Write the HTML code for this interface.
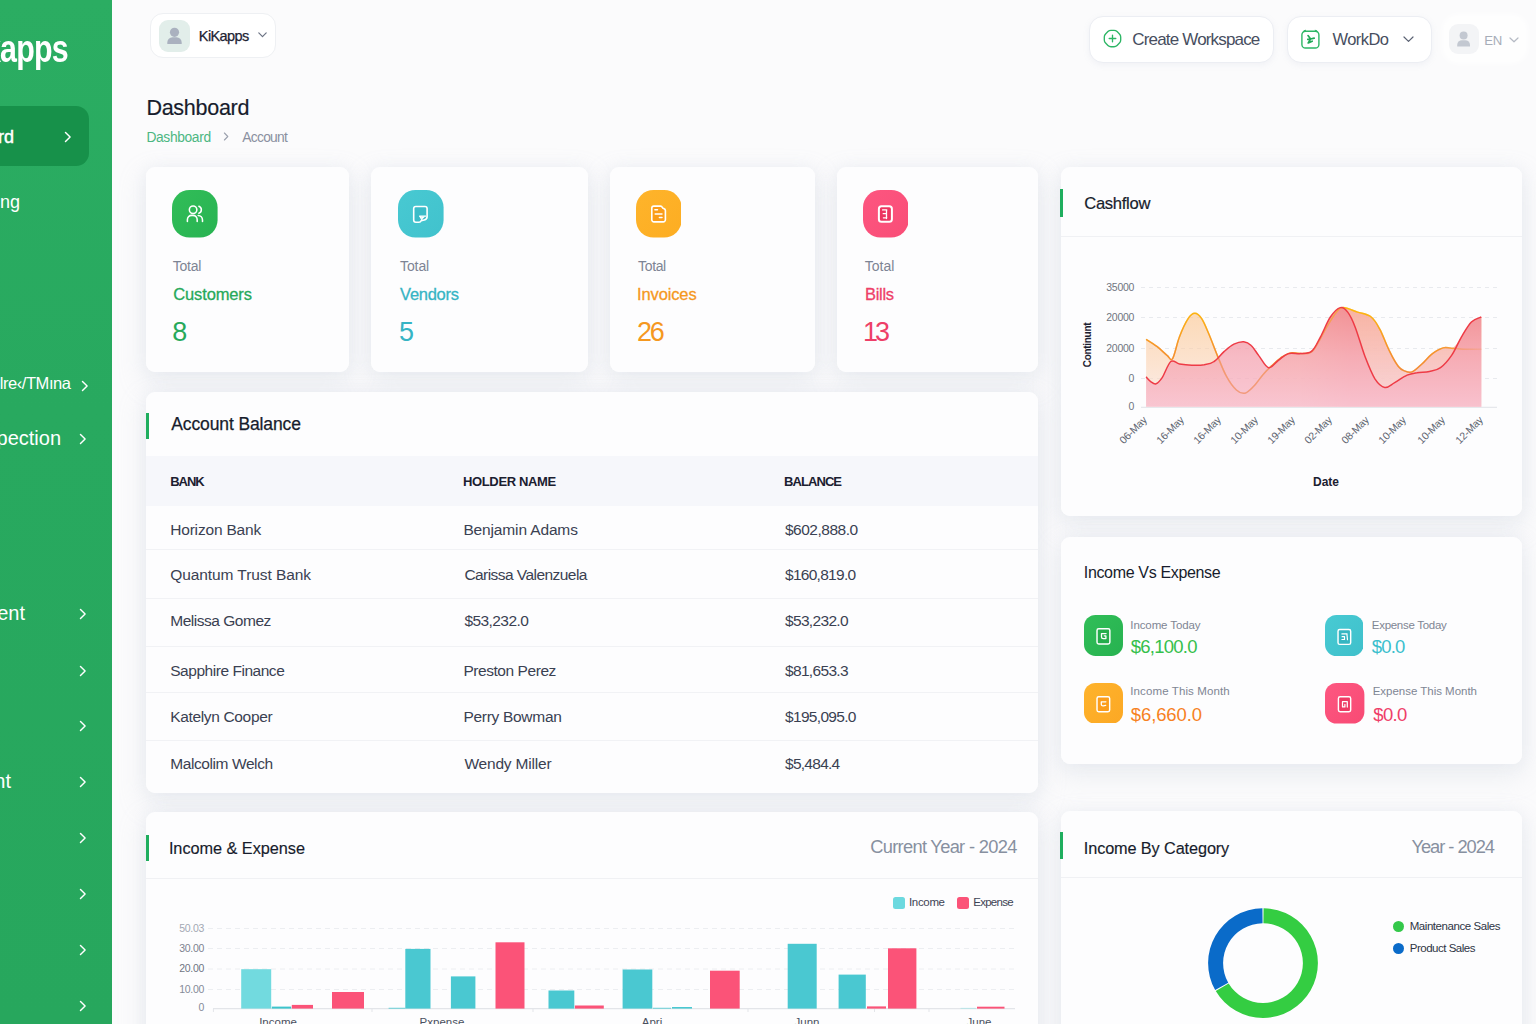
<!DOCTYPE html>
<html><head><meta charset="utf-8"><title>Dashboard</title>
<style>
*{box-sizing:border-box;margin:0;padding:0}
html,body{width:1536px;height:1024px;overflow:hidden}
body{font-family:"Liberation Sans",sans-serif;background:#fbfbfc;position:relative;color:#1f2433}
.abs{position:absolute}
.t{position:absolute;white-space:nowrap;line-height:1}
#side{position:absolute;left:0;top:0;width:112px;height:1024px;background:linear-gradient(180deg,#2bad62 0%,#28a95f 40%,#27a75d 100%)}
#side .t{color:#fff}
.act{position:absolute;left:-12px;top:106px;width:101px;height:60px;border-radius:13px;background:#17914a}
.chev{position:absolute;width:8px;height:14px}
.card{position:absolute;background:#fdfdfe;border-radius:9px}
.cs{position:absolute;border-radius:9px;box-shadow:0 10px 24px 3px rgba(196,202,216,.25),0 0 14px 2px rgba(205,210,224,.14)}
.pill{position:absolute;background:#fff;border:1px solid #eceef3;border-radius:14px;box-shadow:0 2px 6px rgba(150,160,185,.10)}
.bar{position:absolute;width:3px;background:#1fae5e}
.ico{position:absolute;border-radius:17px}
.hr{position:absolute;height:1px;background:#f1f2f5}
.th{font-size:13px;font-weight:bold;color:#1b2030;letter-spacing:-.1px}
.td{font-size:15.5px;color:#3a4152}
.yl{font-size:10.5px;letter-spacing:-.3px}
.xl{font-size:11.5px;color:#4a5060}
.cyl{font-size:10.5px;color:#70767f;letter-spacing:-.3px}
.cxl{font-size:10.5px;color:#5f6571;transform:translate(-50%,-50%) rotate(-45deg);letter-spacing:-.2px}
</style></head><body>
<!--SHADOWS-->
<div class="cs" style="left:146px;top:167px;width:203px;height:205px"></div>
<div class="cs" style="left:371px;top:167px;width:217px;height:205px"></div>
<div class="cs" style="left:610px;top:167px;width:205px;height:205px"></div>
<div class="cs" style="left:837px;top:167px;width:201px;height:205px"></div>
<div class="cs" style="left:146px;top:392px;width:892px;height:401px"></div>
<div class="cs" style="left:146px;top:812px;width:892px;height:240px"></div>
<div class="cs" style="left:1061px;top:167px;width:461px;height:349px"></div>
<div class="cs" style="left:1061px;top:537px;width:461px;height:227px"></div>
<div class="cs" style="left:1061px;top:811px;width:461px;height:240px"></div>
<!--/SHADOWS-->
<!--SIDEBAR-->
<div id="side">
<div class="act"></div>
<div class="t" id="logo" style="right:44px;top:30px;font-size:38px;font-weight:bold;letter-spacing:-1px;transform:scaleX(.80);transform-origin:right center">kapps</div>
<div class="t" id="m1" style="right:98px;top:128px;font-size:18px;-webkit-text-stroke:.45px #fff">Dashboard</div>
<div class="t" id="m2" style="right:92px;top:193px;font-size:18px">Accounting</div>
<div class="t" id="m3" style="right:41.5px;top:374.5px;font-size:16.5px;letter-spacing:-.45px">lre&#8249;/TM&#305;na</div>
<div class="t" id="m4" style="right:51px;top:428px;font-size:20px">Inspection</div>
<div class="t" id="m5" style="right:87px;top:603px;font-size:20px">Management</div>
<div class="t" id="m6" style="right:101px;top:771px;font-size:20px">Account</div>
<svg class="abs" style="left:62.5px;top:129.7px" width="10" height="14" viewBox="0 0 10 14"><path d="M2.5 2.5 L7.1 7 L2.5 11.5" fill="none" stroke="#fff" stroke-width="1.45" stroke-linecap="round" stroke-linejoin="round"/></svg>
<svg class="abs" style="left:80px;top:379.3px" width="10" height="14" viewBox="0 0 10 14"><path d="M2.5 2.5 L7.1 7 L2.5 11.5" fill="none" stroke="#fff" stroke-width="1.45" stroke-linecap="round" stroke-linejoin="round"/></svg>
<svg class="abs" style="left:77.6px;top:432.2px" width="10" height="14" viewBox="0 0 10 14"><path d="M2.5 2.5 L7.1 7 L2.5 11.5" fill="none" stroke="#fff" stroke-width="1.45" stroke-linecap="round" stroke-linejoin="round"/></svg>
<svg class="abs" style="left:77.6px;top:606.7px" width="10" height="14" viewBox="0 0 10 14"><path d="M2.5 2.5 L7.1 7 L2.5 11.5" fill="none" stroke="#fff" stroke-width="1.45" stroke-linecap="round" stroke-linejoin="round"/></svg>
<svg class="abs" style="left:77.6px;top:663.5px" width="10" height="14" viewBox="0 0 10 14"><path d="M2.5 2.5 L7.1 7 L2.5 11.5" fill="none" stroke="#fff" stroke-width="1.45" stroke-linecap="round" stroke-linejoin="round"/></svg>
<svg class="abs" style="left:77.6px;top:719.2px" width="10" height="14" viewBox="0 0 10 14"><path d="M2.5 2.5 L7.1 7 L2.5 11.5" fill="none" stroke="#fff" stroke-width="1.45" stroke-linecap="round" stroke-linejoin="round"/></svg>
<svg class="abs" style="left:77.6px;top:774.7px" width="10" height="14" viewBox="0 0 10 14"><path d="M2.5 2.5 L7.1 7 L2.5 11.5" fill="none" stroke="#fff" stroke-width="1.45" stroke-linecap="round" stroke-linejoin="round"/></svg>
<svg class="abs" style="left:77.6px;top:831.2px" width="10" height="14" viewBox="0 0 10 14"><path d="M2.5 2.5 L7.1 7 L2.5 11.5" fill="none" stroke="#fff" stroke-width="1.45" stroke-linecap="round" stroke-linejoin="round"/></svg>
<svg class="abs" style="left:77.6px;top:886.7px" width="10" height="14" viewBox="0 0 10 14"><path d="M2.5 2.5 L7.1 7 L2.5 11.5" fill="none" stroke="#fff" stroke-width="1.45" stroke-linecap="round" stroke-linejoin="round"/></svg>
<svg class="abs" style="left:77.6px;top:942.7px" width="10" height="14" viewBox="0 0 10 14"><path d="M2.5 2.5 L7.1 7 L2.5 11.5" fill="none" stroke="#fff" stroke-width="1.45" stroke-linecap="round" stroke-linejoin="round"/></svg>
<svg class="abs" style="left:77.6px;top:999.2px" width="10" height="14" viewBox="0 0 10 14"><path d="M2.5 2.5 L7.1 7 L2.5 11.5" fill="none" stroke="#fff" stroke-width="1.45" stroke-linecap="round" stroke-linejoin="round"/></svg>
</div>
<!--TOPBAR-->
<div class="pill" style="left:150px;top:13px;width:126px;height:45px;border-radius:13px;box-shadow:none;border-color:#eef0f3"></div>
<div class="abs" style="left:159px;top:20px;width:31px;height:32px;border-radius:9px;background:#e2eeea"></div>
<svg class="abs" style="left:159px;top:20px" width="31" height="32" viewBox="0 0 31 32"><circle cx="15.5" cy="12.3" r="4.6" fill="#aab1bf"/><path d="M8.3 24 v-1.6 a5.2 5.2 0 0 1 5.2 -5.2 h4 a5.2 5.2 0 0 1 5.2 5.2 V24 z" fill="#aab1bf"/></svg>
<div class="t" id="kik" style="left:198.8px;top:29px;font-size:14.5px;color:#1d2333;letter-spacing:-0.58px;-webkit-text-stroke:.25px #1d2333">KiKapps</div>
<svg class="abs" style="left:257px;top:31px" width="11" height="8" viewBox="0 0 11 8"><path d="M1.8 1.9 L5.5 5.7 L9.2 1.9" fill="none" stroke="#6c7384" stroke-width="1.2" stroke-linecap="round" stroke-linejoin="round"/></svg>

<div class="pill" id="cw" style="left:1089px;top:15.5px;width:185px;height:47px"></div>
<svg class="abs" style="left:1101.5px;top:28.3px" width="21" height="21" viewBox="0 0 21 21"><path d="M5.93 3.57 Q7.20 2.30 9.00 2.30 L12.00 2.30 Q13.80 2.30 15.07 3.57 L17.43 5.93 Q18.70 7.20 18.70 9.00 L18.70 12.00 Q18.70 13.80 17.43 15.07 L15.07 17.43 Q13.80 18.70 12.00 18.70 L9.00 18.70 Q7.20 18.70 5.93 17.43 L3.57 15.07 Q2.30 13.80 2.30 12.00 L2.30 9.00 Q2.30 7.20 3.57 5.93 Z" fill="none" stroke="#2db665" stroke-width="1.35" stroke-linejoin="round"/><path d="M10.5 7.2 v6.6 M7.2 10.5 h6.6" stroke="#2db665" stroke-width="1.35" stroke-linecap="round"/></svg>
<div class="t" id="cwt" style="left:1132.3px;top:30.5px;font-size:17px;color:#474e60;letter-spacing:-0.83px">Create Workspace</div>

<div class="pill" id="wd" style="left:1287px;top:15.5px;width:145px;height:47px"></div>
<svg class="abs" style="left:1300px;top:29px" width="21" height="21" viewBox="0 0 21 21"><rect x="1.9" y="2.2" width="17" height="16.8" rx="3.6" fill="none" stroke="#2db665" stroke-width="1.4"/><path d="M3.4 3.2 q.6 -2 2.6 -1.9 M14.8 1.3 q2 -.1 2.6 1.9" fill="none" stroke="#2db665" stroke-width="1.1"/><path d="M8 6.6 l2.6 3.4 l-2.8 .4 M10.6 10 l3.6 -.9 M10.4 10.4 l-2.2 3.6 l4 -1.8" fill="none" stroke="#22a958" stroke-width="1.7" stroke-linecap="round" stroke-linejoin="round"/></svg>
<div class="t" id="wdt" style="left:1332.4px;top:31px;font-size:16.5px;color:#474e60;letter-spacing:-0.54px">WorkDo</div>
<svg class="abs" style="left:1402px;top:35px" width="13" height="9" viewBox="0 0 13 9"><path d="M2 2 L6.5 6.4 L11 2" fill="none" stroke="#5a6172" stroke-width="1.2" stroke-linecap="round" stroke-linejoin="round"/></svg>

<div class="abs" style="left:1443.5px;top:16px;width:82px;height:45.5px;border-radius:14px;background:#fefefe;box-shadow:0 0 7px 1px rgba(255,255,255,.95)"></div>
<div class="abs" style="left:1449px;top:24px;width:30px;height:30px;border-radius:9px;background:#f3f4f6"></div>
<svg class="abs" style="left:1449px;top:24px" width="30" height="30" viewBox="0 0 30 30"><circle cx="14.6" cy="11.6" r="4" fill="#c3c8d1"/><path d="M8.2 22.4 v-1.4 a4.8 4.8 0 0 1 4.8 -4.8 h3.2 a4.8 4.8 0 0 1 4.8 4.8 v1.4 z" fill="#c3c8d1"/></svg>
<div class="t" id="en" style="left:1484.2px;top:34.3px;font-size:13.2px;color:#a7adb8;letter-spacing:-.2px">EN</div>
<svg class="abs" style="left:1508px;top:36px" width="12" height="8" viewBox="0 0 12 8"><path d="M2 2 L6 5.8 L10 2" fill="none" stroke="#b5bac4" stroke-width="1.2" stroke-linecap="round" stroke-linejoin="round"/></svg>

<div class="t" id="ttl" style="left:146.4px;top:97.6px;font-size:21.5px;letter-spacing:-0.27px;color:#171c2c;-webkit-text-stroke:.18px #171c2c">Dashboard</div>
<div class="t" id="bc1" style="left:146.4px;top:131px;font-size:13.8px;color:#4cb782;letter-spacing:-0.35px">Dashboard</div>
<svg class="abs" style="left:222px;top:131px" width="8" height="11" viewBox="0 0 8 11"><path d="M2.4 2 L5.8 5.5 L2.4 9" fill="none" stroke="#9ba1ae" stroke-width="1.1" stroke-linecap="round" stroke-linejoin="round"/></svg>
<div class="t" id="bc2" style="left:242.3px;top:131px;font-size:13.8px;color:#8a90a0;letter-spacing:-0.72px">Account</div>
<!--CARDS-->
<div class="card" style="left:146px;top:167px;width:203px;height:205px"></div>
<svg class="abs" style="left:172.3px;top:190.3px" width="45.6" height="47.6" viewBox="0 0 45.6 47.6"><defs><linearGradient id="gi1" x1="0" y1="0" x2="1" y2="1"><stop offset="0" stop-color="#31bd58"/><stop offset="1" stop-color="#28b352"/></linearGradient></defs><rect x="0" y="0" width="45.6" height="47.6" rx="17.5" ry="17.5" fill="url(#gi1)"/><g fill="none" stroke="#fff" stroke-linecap="round" stroke-linejoin="round"><g stroke-width="1.55"><circle cx="21.1" cy="19.8" r="3.75"/><path d="M15.4 31.4 v-1.7 a4.3 4.3 0 0 1 4.3 -4.3 h1.2 a4.3 4.3 0 0 1 4.3 4.3 v1.7"/><path d="M26.9 16.2 a3.8 3.8 0 0 1 0 7.1"/><path d="M26.2 25.5 a4.5 4.5 0 0 1 4.3 4.5 v1.4"/></g></g></svg>
<div class="t" id="tot_cust" style="left:172.8px;top:259px;font-size:14px;color:#7d8494;letter-spacing:-0.25px">Total</div>
<div class="t" id="nm_cust" style="left:173.3px;top:286px;font-size:16.5px;color:#27a95a;-webkit-text-stroke:.3px #27a95a;letter-spacing:-0.14px">Customers</div>
<div class="t" id="nu_cust" style="left:172.3px;top:318.5px;font-size:27px;color:#27a95a">8</div>
<div class="card" style="left:371px;top:167px;width:217px;height:205px"></div>
<svg class="abs" style="left:398px;top:190.3px" width="45.6" height="47.6" viewBox="0 0 45.6 47.6"><defs><linearGradient id="gi2" x1="0" y1="0" x2="1" y2="1"><stop offset="0" stop-color="#48c9d2"/><stop offset="1" stop-color="#41c2cd"/></linearGradient></defs><rect x="0" y="0" width="45.6" height="47.6" rx="17.5" ry="17.5" fill="url(#gi2)"/><g fill="none" stroke="#fff" stroke-linecap="round" stroke-linejoin="round"><g stroke-width="1.6"><path d="M17.8 16.5 h9.2 a2.1 2.1 0 0 1 2.1 2.1 v8.2 q0 2.6 -2.8 3.2 l-3.2 .7 q-.5 1.5 -2.1 1.5 h-3.2 a2.1 2.1 0 0 1 -2.1 -2.1 v-11.5 a2.1 2.1 0 0 1 2.1 -2.1 z" fill="#3bbcc8"/><path d="M21.6 26.2 h6.2 M22 26.4 l1.9 3.4" stroke-width="1.3"/><path d="M22.6 26.6 h4.6 l-3 2.6 z" fill="#fff" stroke="none"/></g></g></svg>
<div class="t" id="tot_vend" style="left:400.1px;top:259px;font-size:14px;color:#7d8494;letter-spacing:-0.13px">Total</div>
<div class="t" id="nm_vend" style="left:400.1px;top:286px;font-size:16.5px;color:#36b4c4;-webkit-text-stroke:.3px #36b4c4;letter-spacing:-0.29px">Vendors</div>
<div class="t" id="nu_vend" style="left:399.1px;top:318.5px;font-size:27px;color:#36b4c4">5</div>
<div class="card" style="left:610px;top:167px;width:205px;height:205px"></div>
<svg class="abs" style="left:635.8px;top:190.3px" width="45.6" height="47.6" viewBox="0 0 45.6 47.6"><defs><linearGradient id="gi3" x1="0" y1="0" x2="1" y2="1"><stop offset="0" stop-color="#feb42b"/><stop offset="1" stop-color="#fdad22"/></linearGradient></defs><rect x="0" y="0" width="45.6" height="47.6" rx="17.5" ry="17.5" fill="url(#gi3)"/><g fill="none" stroke="#fff" stroke-linecap="round" stroke-linejoin="round"><g stroke-width="1.6"><path d="M17.9 16.1 h6.6 q1.3 0 1.7 1.2 q.4 1.2 1.7 1.3 q1.5 .3 1.5 2 v9.2 a2.1 2.1 0 0 1 -2.1 2.1 h-9.4 a2.1 2.1 0 0 1 -2.1 -2.1 v-11.6 a2.1 2.1 0 0 1 2.1 -2.1 z" fill="#fb9d18"/><path d="M18.9 19.7 h2.6 M19.2 24.1 h6.8 M23.4 27.6 h2.6" stroke-width="1.5"/></g></g></svg>
<div class="t" id="tot_inv" style="left:638.1px;top:259px;font-size:14px;color:#7d8494;letter-spacing:-0.37px">Total</div>
<div class="t" id="nm_inv" style="left:637.1px;top:286px;font-size:16.5px;color:#f5981f;-webkit-text-stroke:.3px #f5981f;letter-spacing:-0.14px">Invoices</div>
<div class="t" id="nu_inv" style="left:637.1px;top:318.5px;font-size:27px;color:#f5981f;letter-spacing:-2.28px">26</div>
<div class="card" style="left:837px;top:167px;width:201px;height:205px"></div>
<svg class="abs" style="left:862.8px;top:190.3px" width="45.6" height="47.6" viewBox="0 0 45.6 47.6"><defs><linearGradient id="gi4" x1="0" y1="0" x2="1" y2="1"><stop offset="0" stop-color="#fd5680"/><stop offset="1" stop-color="#f94d77"/></linearGradient></defs><rect x="0" y="0" width="45.6" height="47.6" rx="17.5" ry="17.5" fill="url(#gi4)"/><g fill="none" stroke="#fff" stroke-linecap="round" stroke-linejoin="round"><g stroke-width="2"><rect x="15.9" y="16.3" width="13" height="15.5" rx="2.6" fill="#ec3560"/><path d="M19.6 19.9 h4.2 M23.5 19.9 v8.6 M20.2 23.7 h2.4 M20.4 27.8 h3.4" stroke-width="1.3"/></g></g></svg>
<div class="t" id="tot_bill" style="left:864.7px;top:259px;font-size:14px;color:#7d8494;letter-spacing:0.01px">Total</div>
<div class="t" id="nm_bill" style="left:865.1px;top:286px;font-size:16.5px;color:#ee3f68;-webkit-text-stroke:.3px #ee3f68;letter-spacing:-0.33px">Bills</div>
<div class="t" id="nu_bill" style="left:862.9px;top:318.5px;font-size:27px;color:#ee3f68;letter-spacing:-3.00px">13</div>
<!--TABLE-->
<div class="card" style="left:146px;top:392px;width:892px;height:401px"></div>
<div class="bar" style="left:146px;top:413px;height:26px"></div>
<div class="t" id="abt" style="left:171.3px;top:416px;font-size:17.5px;color:#171c2c;-webkit-text-stroke:.25px #171c2c;letter-spacing:-0.12px">Account Balance</div>
<div class="abs" style="left:146px;top:456px;width:892px;height:50px;background:#f6f7fb"></div>
<div class="t th" id="th1" style="left:170.2px;top:475px;letter-spacing:-1.02px">BANK</div>
<div class="t th" id="th2" style="left:463.0px;top:475px;letter-spacing:-0.36px">HOLDER NAME</div>
<div class="t th" id="th3" style="left:784.0px;top:475px;letter-spacing:-0.92px">BALANCE</div>
<div class="t td" id="r0a" style="left:170.2px;top:522px;letter-spacing:-0.18px">Horizon Bank</div><div class="t td" id="r0b" style="left:463.4px;top:522px;letter-spacing:-0.14px">Benjamin Adams</div><div class="t td" id="r0c" style="left:785.0px;top:522px;letter-spacing:-0.50px">$602,888.0</div>
<div class="t td" id="r1a" style="left:170.2px;top:567px;letter-spacing:-0.08px">Quantum Trust Bank</div><div class="t td" id="r1b" style="left:464.4px;top:567px;letter-spacing:-0.55px">Carissa Valenzuela</div><div class="t td" id="r1c" style="left:785.0px;top:567px;letter-spacing:-0.72px">$160,819.0</div>
<div class="t td" id="r2a" style="left:170.2px;top:613px;letter-spacing:-0.47px">Melissa Gomez</div><div class="t td" id="r2b" style="left:464.4px;top:613px;letter-spacing:-0.57px">$53,232.0</div><div class="t td" id="r2c" style="left:785.0px;top:613px;letter-spacing:-0.67px">$53,232.0</div>
<div class="t td" id="r3a" style="left:170.2px;top:663px;letter-spacing:-0.46px">Sapphire Finance</div><div class="t td" id="r3b" style="left:463.4px;top:663px;letter-spacing:-0.44px">Preston Perez</div><div class="t td" id="r3c" style="left:785.0px;top:663px;letter-spacing:-0.67px">$81,653.3</div>
<div class="t td" id="r4a" style="left:170.2px;top:709px;letter-spacing:-0.34px">Katelyn Cooper</div><div class="t td" id="r4b" style="left:463.4px;top:709px;letter-spacing:-0.29px">Perry Bowman</div><div class="t td" id="r4c" style="left:785.0px;top:709px;letter-spacing:-0.68px">$195,095.0</div>
<div class="t td" id="r5a" style="left:170.2px;top:756px;letter-spacing:-0.41px">Malcolim Welch</div><div class="t td" id="r5b" style="left:464.4px;top:756px;letter-spacing:-0.19px">Wendy Miller</div><div class="t td" id="r5c" style="left:785.0px;top:756px;letter-spacing:-0.73px">$5,484.4</div>
<div class="hr" style="left:146px;top:549px;width:892px"></div>
<div class="hr" style="left:146px;top:598px;width:892px"></div>
<div class="hr" style="left:146px;top:646px;width:892px"></div>
<div class="hr" style="left:146px;top:692px;width:892px"></div>
<div class="hr" style="left:146px;top:740px;width:892px"></div>
<!--BARCHART-->
<div class="card" style="left:146px;top:812px;width:892px;height:240px"></div>
<div class="bar" style="left:145.5px;top:835px;height:26px"></div>
<div class="t" id="iet" style="left:168.9px;top:840px;font-size:16.3px;color:#171c2c;-webkit-text-stroke:.15px #171c2c;letter-spacing:-0.04px">Income &amp; Expense</div>
<div class="t" id="cy" style="right:519.4px;top:837.8px;font-size:18.3px;color:#8790a0;letter-spacing:-0.69px">Current Year - 2024</div>
<div class="hr" style="left:146px;top:878px;width:892px;background:#f0f1f4"></div>
<div class="abs" style="left:893px;top:897px;width:11.5px;height:11.5px;border-radius:2.5px;background:#6cd9df"></div>
<div class="t" id="lg1" style="left:909.0px;top:897px;font-size:11.5px;color:#3d4455;letter-spacing:-0.34px">Income</div>
<div class="abs" style="left:957px;top:897px;width:11.5px;height:11.5px;border-radius:2.5px;background:#fb5378"></div>
<div class="t" id="lg2" style="left:973.2px;top:897px;font-size:11.5px;color:#3d4455;letter-spacing:-0.72px">Expense</div>
<div class="t yl" style="right:1332px;top:922.5px;color:#a3a8b3">50.03</div>
<div class="t yl" style="right:1332px;top:942.5px;color:#7d8390">30.00</div>
<div class="t yl" style="right:1332px;top:963.0px;color:#6f7583">20.00</div>
<div class="t yl" style="right:1332px;top:983.5px;color:#858b98">10.00</div>
<div class="t yl" style="right:1332px;top:1001.5px;color:#858b98">0</div>
<svg class="abs" style="left:146px;top:880px" width="892" height="144" viewBox="146 880 892 144">
<path d="M208 928.5 H1015" stroke="#eceef1" stroke-width="1" stroke-dasharray="5 4" fill="none"/>
<path d="M208 948.5 H1015" stroke="#eceef1" stroke-width="1" stroke-dasharray="5 4" fill="none"/>
<path d="M208 969 H1015" stroke="#eceef1" stroke-width="1" stroke-dasharray="5 4" fill="none"/>
<path d="M208 989.5 H1015" stroke="#eceef1" stroke-width="1" stroke-dasharray="5 4" fill="none"/>
<path d="M213 1008.7 H1015" stroke="#e3e5e9" stroke-width="1.2" fill="none"/>
<path d="M213.4 1008.7 V1012" stroke="#e3e5e9" stroke-width="1" fill="none"/>
<path d="M372 1008.7 V1012" stroke="#e3e5e9" stroke-width="1" fill="none"/>
<path d="M533 1008.7 V1012" stroke="#e3e5e9" stroke-width="1" fill="none"/>
<path d="M748 1008.7 V1012" stroke="#e3e5e9" stroke-width="1" fill="none"/>
<path d="M874.5 1008.7 V1012" stroke="#e3e5e9" stroke-width="1" fill="none"/>
<path d="M929 1008.7 V1012" stroke="#e3e5e9" stroke-width="1" fill="none"/>
<rect x="241.2" y="969.2" width="30.0" height="39.4" fill="#72dadf"/>
<rect x="271.8" y="1006.6" width="19.4" height="2.0" fill="#3cc4cc"/>
<rect x="291.8" y="1004.9" width="21.2" height="3.7" fill="#fb5378"/>
<rect x="332" y="992" width="32.0" height="16.6" fill="#fb5378"/>
<rect x="388.6" y="1007.8" width="16.7" height="0.8" fill="#4ac8d1"/>
<rect x="405.3" y="948.9" width="25.2" height="59.7" fill="#4ac8d1"/>
<rect x="450.9" y="976.4" width="24.5" height="32.2" fill="#4ac8d1"/>
<rect x="495.5" y="942.3" width="29.0" height="66.3" fill="#fb5378"/>
<rect x="548.5" y="990.5" width="25.8" height="18.1" fill="#4ac8d1"/>
<rect x="574.9" y="1005.5" width="28.9" height="3.1" fill="#fb5378"/>
<rect x="622.6" y="969.5" width="29.7" height="39.1" fill="#4ac8d1"/>
<rect x="653" y="1007.8" width="18.0" height="0.8" fill="#4ac8d1"/>
<rect x="672" y="1007" width="20.0" height="1.6" fill="#4ac8d1"/>
<rect x="710" y="970.7" width="29.7" height="37.9" fill="#fb5378"/>
<rect x="787.7" y="943.8" width="29.0" height="64.8" fill="#4ac8d1"/>
<rect x="838.6" y="974.6" width="27.2" height="34.0" fill="#4ac8d1"/>
<rect x="867" y="1006.4" width="19.0" height="2.2" fill="#fb5378"/>
<rect x="888" y="948.3" width="28.4" height="60.3" fill="#fb5378"/>
<rect x="960.5" y="1007.9" width="15.5" height="0.7" fill="#a5e3e6"/>
<rect x="977" y="1006.7" width="27.5" height="1.9" fill="#fb5378"/>
</svg>
<div class="t xl" style="left:238px;top:1016.5px;width:80px;text-align:center">Income</div>
<div class="t xl" style="left:402px;top:1016.5px;width:80px;text-align:center">Pxpense</div>
<div class="t xl" style="left:612px;top:1016.5px;width:80px;text-align:center">Apri</div>
<div class="t xl" style="left:767px;top:1016.5px;width:80px;text-align:center">Junn</div>
<div class="t xl" style="left:939px;top:1016.5px;width:80px;text-align:center">June</div>
<!--CASHFLOW-->
<div class="card" style="left:1061px;top:167px;width:461px;height:349px"></div>
<div class="bar" style="left:1060px;top:189px;height:28px"></div>
<div class="t" id="cft" style="left:1084.2px;top:195.5px;font-size:16.6px;letter-spacing:-0.29px;color:#171c2c;-webkit-text-stroke:.2px #171c2c">Cashflow</div>
<div class="hr" style="left:1061px;top:236px;width:461px;background:#f0f1f4"></div>
<div class="t cyl" style="right:402px;top:281.5px">35000</div>
<div class="t cyl" style="right:402px;top:311.5px">20000</div>
<div class="t cyl" style="right:402px;top:342.5px">20000</div>
<div class="t cyl" style="right:402px;top:372.5px">0</div>
<div class="t cyl" style="right:402px;top:400.5px">0</div>
<div class="t" id="cont" style="left:1088px;top:345px;font-size:10px;font-weight:bold;color:#1b2030;transform:translate(-50%,-50%) rotate(-90deg);letter-spacing:-.3px">Continunt</div>
<svg class="abs" style="left:1061px;top:240px" width="461" height="276" viewBox="1061 240 461 276">
<defs><linearGradient id="gr" gradientUnits="userSpaceOnUse" x1="0" y1="305" x2="0" y2="407"><stop offset="0" stop-color="#f0868f" stop-opacity=".78"/><stop offset=".5" stop-color="#f5a3b0" stop-opacity=".74"/><stop offset="1" stop-color="#f8bccb" stop-opacity=".8"/></linearGradient><linearGradient id="go" gradientUnits="userSpaceOnUse" x1="0" y1="305" x2="0" y2="407"><stop offset="0" stop-color="#fbbf80" stop-opacity=".6"/><stop offset=".6" stop-color="#fbd3b4" stop-opacity=".6"/><stop offset="1" stop-color="#fae0da" stop-opacity=".55"/></linearGradient><linearGradient id="gos" gradientUnits="userSpaceOnUse" x1="0" y1="308" x2="0" y2="395"><stop offset="0" stop-color="#fdb80e"/><stop offset=".45" stop-color="#f6952a"/><stop offset="1" stop-color="#ee8440"/></linearGradient><linearGradient id="gof" gradientUnits="userSpaceOnUse" x1="1440" y1="0" x2="1482" y2="0"><stop offset="0" stop-color="#fff" stop-opacity="1"/><stop offset="1" stop-color="#fff" stop-opacity=".25"/></linearGradient><mask id="mk"><rect x="1061" y="240" width="461" height="276" fill="url(#gof)"/><rect x="1061" y="240" width="379" height="276" fill="#fff"/></mask><linearGradient id="go2" gradientUnits="userSpaceOnUse" x1="0" y1="305" x2="0" y2="407"><stop offset="0" stop-color="#f6a89c" stop-opacity=".8"/><stop offset=".6" stop-color="#f7bfc0" stop-opacity=".75"/><stop offset="1" stop-color="#f8cdd4" stop-opacity=".7"/></linearGradient><linearGradient id="gmx" gradientUnits="userSpaceOnUse" x1="1300" y1="0" x2="1352" y2="0"><stop offset="0" stop-color="#000"/><stop offset="1" stop-color="#fff"/></linearGradient><mask id="mr"><rect x="1061" y="240" width="461" height="276" fill="url(#gmx)"/></mask></defs>
<path d="M1141 287.5 H1497" stroke="#e8eaee" stroke-width="1" stroke-dasharray="4 4" fill="none"/>
<path d="M1141 317.5 H1497" stroke="#e8eaee" stroke-width="1" stroke-dasharray="4 4" fill="none"/>
<path d="M1141 348.5 H1497" stroke="#e8eaee" stroke-width="1" stroke-dasharray="4 4" fill="none"/>
<path d="M1141 378.5 H1497" stroke="#e8eaee" stroke-width="1" stroke-dasharray="4 4" fill="none"/>
<path d="M1141 407.3 H1497" stroke="#e6e8ec" stroke-width="1.2" fill="none"/>
<path d="M1146.1 339.3 C1148.0 340.5 1153.6 344.0 1157.2 346.7 C1160.8 349.4 1164.5 353.3 1167.1 355.4 C1169.7 357.4 1170.5 361.7 1172.6 358.6 C1174.7 355.4 1176.8 343.6 1179.5 336.8 C1182.1 330.0 1185.5 322.7 1188.1 318.7 C1190.7 314.7 1192.5 313.3 1194.8 313.3 C1197.1 313.3 1199.3 315.1 1201.7 318.7 C1204.2 322.4 1206.4 328.4 1209.2 334.8 C1211.9 341.3 1214.9 349.5 1217.8 356.6 C1220.8 363.7 1223.3 370.7 1226.5 376.4 C1229.6 382.1 1233.2 387.1 1236.4 390.0 C1239.5 392.9 1242.1 393.8 1245.0 393.2 C1248.0 392.6 1250.5 389.6 1253.7 386.3 C1256.9 383.0 1260.4 377.5 1263.6 373.9 C1266.8 370.3 1269.3 368.0 1272.3 365.2 C1275.2 362.5 1277.8 359.9 1280.9 357.8 C1284.1 355.7 1287.0 353.6 1290.8 352.9 C1294.6 352.2 1299.4 354.0 1303.2 353.6 C1307.0 353.2 1309.3 354.5 1313.1 350.4 C1316.9 346.3 1321.7 335.6 1325.4 329.4 C1329.2 323.1 1332.4 317.2 1335.3 313.5 C1338.3 309.8 1339.0 307.9 1342.8 307.6 C1346.6 307.4 1352.8 310.5 1357.6 312.1 C1362.4 313.7 1367.4 314.1 1371.2 317.0 C1375.0 320.0 1376.7 323.5 1379.9 329.4 C1383.0 335.3 1386.6 345.3 1389.8 351.6 C1392.9 358.0 1395.9 363.2 1398.4 366.5 C1401.0 369.8 1402.3 370.0 1404.6 370.9 C1406.9 371.9 1409.1 373.1 1412.0 371.9 C1415.0 370.8 1418.6 367.0 1421.9 364.0 C1425.3 361.0 1428.3 356.9 1431.8 354.1 C1435.4 351.4 1439.6 348.9 1443.0 347.9 C1446.3 346.9 1449.3 348.8 1451.6 348.2 C1453.9 347.5 1454.9 346.2 1456.6 344.2 C1458.3 342.3 1459.0 340.6 1461.5 336.8 C1464.0 333.0 1468.1 325.3 1471.4 322.0 C1474.8 318.6 1479.6 317.8 1481.3 317.0 L1481.3 406.8 L1146.1 406.8 Z" fill="url(#go)"/>
<path d="M1146.1 339.3 C1148.0 340.5 1153.6 344.0 1157.2 346.7 C1160.8 349.4 1164.5 353.3 1167.1 355.4 C1169.7 357.4 1170.5 361.7 1172.6 358.6 C1174.7 355.4 1176.8 343.6 1179.5 336.8 C1182.1 330.0 1185.5 322.7 1188.1 318.7 C1190.7 314.7 1192.5 313.3 1194.8 313.3 C1197.1 313.3 1199.3 315.1 1201.7 318.7 C1204.2 322.4 1206.4 328.4 1209.2 334.8 C1211.9 341.3 1214.9 349.5 1217.8 356.6 C1220.8 363.7 1223.3 370.7 1226.5 376.4 C1229.6 382.1 1233.2 387.1 1236.4 390.0 C1239.5 392.9 1242.1 393.8 1245.0 393.2 C1248.0 392.6 1250.5 389.6 1253.7 386.3 C1256.9 383.0 1260.4 377.5 1263.6 373.9 C1266.8 370.3 1269.3 368.0 1272.3 365.2 C1275.2 362.5 1277.8 359.9 1280.9 357.8 C1284.1 355.7 1287.0 353.6 1290.8 352.9 C1294.6 352.2 1299.4 354.0 1303.2 353.6 C1307.0 353.2 1309.3 354.5 1313.1 350.4 C1316.9 346.3 1321.7 335.6 1325.4 329.4 C1329.2 323.1 1332.4 317.2 1335.3 313.5 C1338.3 309.8 1339.0 307.9 1342.8 307.6 C1346.6 307.4 1352.8 310.5 1357.6 312.1 C1362.4 313.7 1367.4 314.1 1371.2 317.0 C1375.0 320.0 1376.7 323.5 1379.9 329.4 C1383.0 335.3 1386.6 345.3 1389.8 351.6 C1392.9 358.0 1395.9 363.2 1398.4 366.5 C1401.0 369.8 1402.3 370.0 1404.6 370.9 C1406.9 371.9 1409.1 373.1 1412.0 371.9 C1415.0 370.8 1418.6 367.0 1421.9 364.0 C1425.3 361.0 1428.3 356.9 1431.8 354.1 C1435.4 351.4 1439.6 348.9 1443.0 347.9 C1446.3 346.9 1449.3 348.8 1451.6 348.2 C1453.9 347.5 1454.9 346.2 1456.6 344.2 C1458.3 342.3 1459.0 340.6 1461.5 336.8 C1464.0 333.0 1468.1 325.3 1471.4 322.0 C1474.8 318.6 1479.6 317.8 1481.3 317.0 L1481.3 406.8 L1146.1 406.8 Z" fill="url(#go2)" mask="url(#mr)"/>
<path d="M1146.1 339.3 C1148.0 340.5 1153.6 344.0 1157.2 346.7 C1160.8 349.4 1164.5 353.3 1167.1 355.4 C1169.7 357.4 1170.5 361.7 1172.6 358.6 C1174.7 355.4 1176.8 343.6 1179.5 336.8 C1182.1 330.0 1185.5 322.7 1188.1 318.7 C1190.7 314.7 1192.5 313.3 1194.8 313.3 C1197.1 313.3 1199.3 315.1 1201.7 318.7 C1204.2 322.4 1206.4 328.4 1209.2 334.8 C1211.9 341.3 1214.9 349.5 1217.8 356.6 C1220.8 363.7 1223.3 370.7 1226.5 376.4 C1229.6 382.1 1233.2 387.1 1236.4 390.0 C1239.5 392.9 1242.1 393.8 1245.0 393.2 C1248.0 392.6 1250.5 389.6 1253.7 386.3 C1256.9 383.0 1260.4 377.5 1263.6 373.9 C1266.8 370.3 1269.3 368.0 1272.3 365.2 C1275.2 362.5 1277.8 359.9 1280.9 357.8 C1284.1 355.7 1287.0 353.6 1290.8 352.9 C1294.6 352.2 1299.4 354.0 1303.2 353.6 C1307.0 353.2 1309.3 354.5 1313.1 350.4 C1316.9 346.3 1321.7 335.6 1325.4 329.4 C1329.2 323.1 1332.4 317.2 1335.3 313.5 C1338.3 309.8 1339.0 307.9 1342.8 307.6 C1346.6 307.4 1352.8 310.5 1357.6 312.1 C1362.4 313.7 1367.4 314.1 1371.2 317.0 C1375.0 320.0 1376.7 323.5 1379.9 329.4 C1383.0 335.3 1386.6 345.3 1389.8 351.6 C1392.9 358.0 1395.9 363.2 1398.4 366.5 C1401.0 369.8 1402.3 370.0 1404.6 370.9 C1406.9 371.9 1409.1 373.1 1412.0 371.9 C1415.0 370.8 1418.6 367.0 1421.9 364.0 C1425.3 361.0 1428.3 356.9 1431.8 354.1 C1435.4 351.4 1439.6 348.9 1443.0 347.9 C1446.3 346.9 1448.0 348.0 1451.6 348.2 C1455.2 348.4 1458.9 349.0 1464.0 349.2 C1469.0 349.3 1478.4 349.2 1481.3 349.2" fill="none" stroke="url(#gos)" stroke-width="1.5" stroke-linejoin="round" mask="url(#mk)"/>
<path d="M1146.1 376.9 C1146.9 377.7 1149.3 380.6 1151.0 381.8 C1152.7 383.0 1154.1 384.5 1156.0 383.8 C1157.9 383.1 1159.6 381.4 1162.2 377.6 C1164.7 373.8 1167.9 363.9 1170.8 361.5 C1173.8 359.2 1175.9 363.4 1179.5 364.0 C1183.1 364.6 1187.6 365.1 1191.9 365.2 C1196.1 365.4 1200.4 365.4 1204.2 364.8 C1208.0 364.1 1210.8 363.8 1214.1 361.5 C1217.5 359.3 1220.6 354.6 1224.0 351.6 C1227.4 348.7 1230.5 345.9 1233.9 344.2 C1237.3 342.5 1240.9 341.5 1243.8 341.7 C1246.7 342.0 1248.7 343.1 1251.2 345.5 C1253.8 347.8 1255.7 351.6 1258.6 355.4 C1261.6 359.1 1265.2 366.9 1268.5 367.7 C1271.9 368.6 1275.1 362.7 1278.4 360.3 C1281.8 357.9 1284.6 354.8 1288.3 353.6 C1292.1 352.5 1296.7 354.0 1300.7 353.6 C1304.7 353.2 1308.5 354.0 1311.8 351.1 C1315.2 348.3 1317.3 342.6 1320.5 336.8 C1323.7 331.0 1327.0 322.0 1330.4 317.0 C1333.8 312.0 1337.3 308.4 1340.3 307.6 C1343.2 306.8 1345.2 308.8 1347.7 312.1 C1350.2 315.3 1352.2 319.3 1355.1 326.9 C1358.1 334.5 1361.7 347.8 1365.0 356.6 C1368.4 365.4 1371.6 373.6 1374.9 378.9 C1378.3 384.1 1381.5 386.9 1384.8 387.5 C1388.2 388.1 1390.9 384.7 1394.7 382.6 C1398.5 380.5 1403.3 376.8 1407.1 375.1 C1410.9 373.5 1413.2 373.3 1417.0 372.7 C1420.8 372.0 1425.4 372.3 1429.4 371.4 C1433.4 370.6 1436.7 370.5 1440.5 367.7 C1444.3 365.0 1448.0 360.6 1451.6 355.4 C1455.2 350.1 1458.2 342.5 1461.5 336.8 C1464.9 331.1 1468.1 325.3 1471.4 322.0 C1474.8 318.6 1479.6 317.8 1481.3 317.0 L1481.3 406.8 L1146.1 406.8 Z" fill="url(#gr)"/>
<path d="M1146.1 339.3 C1148.0 340.5 1153.6 344.0 1157.2 346.7 C1160.8 349.4 1164.5 353.3 1167.1 355.4 C1169.7 357.4 1170.5 361.7 1172.6 358.6 C1174.7 355.4 1176.8 343.6 1179.5 336.8 C1182.1 330.0 1185.5 322.7 1188.1 318.7 C1190.7 314.7 1192.5 313.3 1194.8 313.3 C1197.1 313.3 1199.3 315.1 1201.7 318.7 C1204.2 322.4 1206.4 328.4 1209.2 334.8 C1211.9 341.3 1214.9 349.5 1217.8 356.6 C1220.8 363.7 1223.3 370.7 1226.5 376.4 C1229.6 382.1 1233.2 387.1 1236.4 390.0 C1239.5 392.9 1242.1 393.8 1245.0 393.2 C1248.0 392.6 1250.5 389.6 1253.7 386.3 C1256.9 383.0 1260.4 377.5 1263.6 373.9 C1266.8 370.3 1269.3 368.0 1272.3 365.2 C1275.2 362.5 1277.8 359.9 1280.9 357.8 C1284.1 355.7 1287.0 353.6 1290.8 352.9 C1294.6 352.2 1299.4 354.0 1303.2 353.6 C1307.0 353.2 1309.3 354.5 1313.1 350.4 C1316.9 346.3 1321.7 335.6 1325.4 329.4 C1329.2 323.1 1332.4 317.2 1335.3 313.5 C1338.3 309.8 1339.0 307.9 1342.8 307.6 C1346.6 307.4 1352.8 310.5 1357.6 312.1 C1362.4 313.7 1367.4 314.1 1371.2 317.0 C1375.0 320.0 1376.7 323.5 1379.9 329.4 C1383.0 335.3 1386.6 345.3 1389.8 351.6 C1392.9 358.0 1395.9 363.2 1398.4 366.5 C1401.0 369.8 1402.3 370.0 1404.6 370.9 C1406.9 371.9 1409.1 373.1 1412.0 371.9 C1415.0 370.8 1418.6 367.0 1421.9 364.0 C1425.3 361.0 1428.3 356.9 1431.8 354.1 C1435.4 351.4 1439.6 348.9 1443.0 347.9 C1446.3 346.9 1448.0 348.0 1451.6 348.2 C1455.2 348.4 1458.9 349.0 1464.0 349.2 C1469.0 349.3 1478.4 349.2 1481.3 349.2" fill="none" stroke="url(#gos)" stroke-width="1.5" stroke-linejoin="round" mask="url(#mk)" opacity=".4"/>
<path d="M1146.1 376.9 C1146.9 377.7 1149.3 380.6 1151.0 381.8 C1152.7 383.0 1154.1 384.5 1156.0 383.8 C1157.9 383.1 1159.6 381.4 1162.2 377.6 C1164.7 373.8 1167.9 363.9 1170.8 361.5 C1173.8 359.2 1175.9 363.4 1179.5 364.0 C1183.1 364.6 1187.6 365.1 1191.9 365.2 C1196.1 365.4 1200.4 365.4 1204.2 364.8 C1208.0 364.1 1210.8 363.8 1214.1 361.5 C1217.5 359.3 1220.6 354.6 1224.0 351.6 C1227.4 348.7 1230.5 345.9 1233.9 344.2 C1237.3 342.5 1240.9 341.5 1243.8 341.7 C1246.7 342.0 1248.7 343.1 1251.2 345.5 C1253.8 347.8 1255.7 351.6 1258.6 355.4 C1261.6 359.1 1265.2 366.9 1268.5 367.7 C1271.9 368.6 1275.1 362.7 1278.4 360.3 C1281.8 357.9 1284.6 354.8 1288.3 353.6 C1292.1 352.5 1296.7 354.0 1300.7 353.6 C1304.7 353.2 1308.5 354.0 1311.8 351.1 C1315.2 348.3 1317.3 342.6 1320.5 336.8 C1323.7 331.0 1327.0 322.0 1330.4 317.0 C1333.8 312.0 1337.3 308.4 1340.3 307.6 C1343.2 306.8 1345.2 308.8 1347.7 312.1 C1350.2 315.3 1352.2 319.3 1355.1 326.9 C1358.1 334.5 1361.7 347.8 1365.0 356.6 C1368.4 365.4 1371.6 373.6 1374.9 378.9 C1378.3 384.1 1381.5 386.9 1384.8 387.5 C1388.2 388.1 1390.9 384.7 1394.7 382.6 C1398.5 380.5 1403.3 376.8 1407.1 375.1 C1410.9 373.5 1413.2 373.3 1417.0 372.7 C1420.8 372.0 1425.4 372.3 1429.4 371.4 C1433.4 370.6 1436.7 370.5 1440.5 367.7 C1444.3 365.0 1448.0 360.6 1451.6 355.4 C1455.2 350.1 1458.2 342.5 1461.5 336.8 C1464.9 331.1 1468.1 325.3 1471.4 322.0 C1474.8 318.6 1479.6 317.8 1481.3 317.0" fill="none" stroke="#ee3b46" stroke-width="1.5" stroke-linejoin="round"/>
</svg>
<div class="t cxl" style="left:1133px;top:430px">06-May</div>
<div class="t cxl" style="left:1170px;top:430px">16-May</div>
<div class="t cxl" style="left:1207px;top:430px">16-May</div>
<div class="t cxl" style="left:1244px;top:430px">10-May</div>
<div class="t cxl" style="left:1281px;top:430px">19-May</div>
<div class="t cxl" style="left:1318px;top:430px">02-May</div>
<div class="t cxl" style="left:1355px;top:430px">08-May</div>
<div class="t cxl" style="left:1392px;top:430px">10-May</div>
<div class="t cxl" style="left:1431px;top:430px">10-May</div>
<div class="t cxl" style="left:1469px;top:430px">12-May</div>
<div class="t" id="date" style="left:1313px;top:476px;font-size:12px;font-weight:bold;color:#1b2030">Date</div>
<!--IVE-->
<div class="card" style="left:1061px;top:537px;width:461px;height:227px"></div>
<div class="t" id="ivet" style="left:1083.8px;top:565px;font-size:16px;color:#171c2c;letter-spacing:-0.34px">Income Vs Expense</div>
<svg class="abs" style="left:1083.7px;top:614.8px" width="39" height="40.9" viewBox="0 0 39 40.9"><defs><linearGradient id="gj1" x1="0" y1="0" x2="1" y2="1"><stop offset="0" stop-color="#31be58"/><stop offset="1" stop-color="#27b250"/></linearGradient></defs><rect width="39" height="40.9" rx="11.5" fill="url(#gj1)"/><g fill="none" stroke="#fff" stroke-width="1.45" stroke-linecap="round" stroke-linejoin="round"><rect x="13.02" y="13.72" width="12.85" height="15.25" rx="1.7" fill="#25ad4c"/><g transform="translate(12.30 13.00)"><path d="M9.8 5.6 h-4.6 v3.4 q0 1.6 1.8 1.6 h2.6 v-2.8 h-1.6" stroke-width="1.3"/></g></g></svg>
<div class="t" id="l_it" style="left:1130.3px;top:619.5px;font-size:11.5px;color:#7f8694;letter-spacing:-0.10px">Income Today</div>
<div class="t" id="v_it" style="left:1130.8px;top:638.1px;font-size:18.5px;color:#35c04b;letter-spacing:-0.76px">$6,100.0</div>
<svg class="abs" style="left:1324.6px;top:615px" width="38.7" height="41" viewBox="0 0 38.7 41"><defs><linearGradient id="gj2" x1="0" y1="0" x2="1" y2="1"><stop offset="0" stop-color="#48cad3"/><stop offset="1" stop-color="#3fc0cb"/></linearGradient></defs><rect width="38.7" height="41" rx="11.5" fill="url(#gj2)"/><g fill="none" stroke="#fff" stroke-width="1.45" stroke-linecap="round" stroke-linejoin="round"><rect x="13.03" y="14.43" width="12.65" height="14.95" rx="1.7" fill="#36b6c2"/><g transform="translate(12.30 13.70)"><path d="M4.6 5.2 h5.2 M9.6 5.2 l.6 5.8 M4.8 8 h2.4 v2.8 h-2.6" stroke-width="1.2"/></g></g></svg>
<div class="t" id="l_et" style="left:1371.8px;top:619.5px;font-size:11.5px;color:#7f8694;letter-spacing:-0.29px">Expense Today</div>
<div class="t" id="v_et" style="left:1371.7px;top:638.1px;font-size:18.5px;color:#3bbfcd;letter-spacing:-0.78px">$0.0</div>
<svg class="abs" style="left:1083.7px;top:682.7px" width="39" height="40.8" viewBox="0 0 39 40.8"><defs><linearGradient id="gj3" x1="0" y1="0" x2="1" y2="1"><stop offset="0" stop-color="#feb32c"/><stop offset="1" stop-color="#fca824"/></linearGradient></defs><rect width="39" height="40.8" rx="11.5" fill="url(#gj3)"/><g fill="none" stroke="#fff" stroke-width="1.45" stroke-linecap="round" stroke-linejoin="round"><rect x="13.02" y="13.72" width="12.65" height="14.95" rx="1.7" fill="#fb9d1c"/><g transform="translate(12.30 13.00)"><path d="M9.6 5.8 h-4.6 v2.4 q0 1.8 2 1.6 l2.4 -.4" stroke-width="1.3"/></g></g></svg>
<div class="t" id="l_im" style="left:1130.3px;top:685.5px;font-size:11.5px;color:#7f8694;letter-spacing:0.11px">Income This Month</div>
<div class="t" id="v_im" style="left:1130.8px;top:706.1px;font-size:18.5px;color:#f7821e;letter-spacing:-0.11px">$6,660.0</div>
<svg class="abs" style="left:1325.3px;top:683px" width="39.4" height="40.5" viewBox="0 0 39.4 40.5"><defs><linearGradient id="gj4" x1="0" y1="0" x2="1" y2="1"><stop offset="0" stop-color="#fd5781"/><stop offset="1" stop-color="#f84a74"/></linearGradient></defs><rect width="39.4" height="40.5" rx="11.5" fill="url(#gj4)"/><g fill="none" stroke="#fff" stroke-width="1.45" stroke-linecap="round" stroke-linejoin="round"><rect x="13.43" y="13.83" width="12.25" height="14.95" rx="1.7" fill="#ee3a64"/><g transform="translate(12.70 13.10)"><path d="M9.6 5.6 h-4.8 v5.2 h2.4 M9.6 5.8 v5.2 M7.2 8.4 v2.4" stroke-width="1.25"/></g></g></svg>
<div class="t" id="l_em" style="left:1372.7px;top:685.5px;font-size:11.5px;color:#7f8694;letter-spacing:-0.02px">Expense This Month</div>
<div class="t" id="v_em" style="left:1373.2px;top:706.1px;font-size:18.5px;color:#ef3f69;letter-spacing:-0.60px">$0.0</div>
<!--DONUT-->
<div class="card" style="left:1061px;top:811px;width:461px;height:240px"></div>
<div class="bar" style="left:1060px;top:832px;height:27px"></div>
<div class="t" id="ibct" style="left:1083.8px;top:840px;font-size:16.3px;color:#171c2c;-webkit-text-stroke:.15px #171c2c;letter-spacing:-0.12px">Income By Category</div>
<div class="t" id="yr" style="right:42.1px;top:838.2px;font-size:18.3px;color:#8790a0;letter-spacing:-1.04px">Year - 2024</div>
<div class="hr" style="left:1061px;top:877px;width:461px;background:#f0f1f4"></div>
<svg class="abs" style="left:1200px;top:900px" width="126" height="124" viewBox="1200 900 126 124">
<path d="M1263.57 908.20 A54.9 54.9 0 1 1 1215.75 991.05 L1228.66 983.41 A39.9 39.9 0 1 0 1263.42 923.20 Z" fill="#34cd42"/>
<path d="M1215.17 990.05 A54.9 54.9 0 0 1 1262.43 908.20 L1262.58 923.20 A39.9 39.9 0 0 0 1228.24 982.69 Z" fill="#0a6bc9"/>
</svg>
<div class="abs" style="left:1393.2px;top:920.5px;width:11px;height:11px;border-radius:50%;background:#34c84a"></div>
<div class="t" id="dl1" style="left:1409.7px;top:920.5px;font-size:11.5px;color:#2e3545;letter-spacing:-0.44px">Maintenance Sales</div>
<div class="abs" style="left:1393.2px;top:942.7px;width:11px;height:11px;border-radius:50%;background:#0a6bc9"></div>
<div class="t" id="dl2" style="left:1409.7px;top:942.7px;font-size:11.5px;color:#2e3545;letter-spacing:-0.48px">Product Sales</div>
</body></html>
